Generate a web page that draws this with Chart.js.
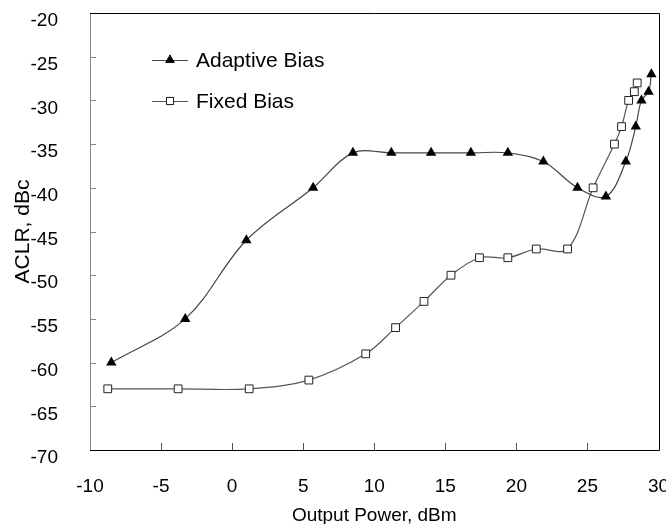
<!DOCTYPE html>
<html lang="en">
<head>
    <meta charset="UTF-8">
    <title>ACLR vs Output Power</title>
    <style>
        body { margin: 0; background: #fff; }
        canvas { display: block; }
    </style>
    <script src="https://cdn.jsdelivr.net/npm/chart.js"></script>
</head>
<body>
    <canvas id="aclrChart" width="666" height="524"></canvas>

    <script>
        // values
        var adaptiveX = [-8.5, -3.3, 1.0, 5.7, 8.5, 11.2, 14.0, 16.8, 19.4, 21.9, 24.3, 26.3, 27.7, 28.4, 28.8, 29.3, 29.5];
        var adaptiveY = [-60, -55, -46, -40, -36, -36, -36, -36, -36, -37, -40, -41, -37, -33, -30, -29, -27];
        var fixedX = [-8.75, -3.8, 1.2, 5.4, 9.4, 11.5, 13.5, 15.4, 17.4, 19.4, 21.4, 23.6, 25.4, 26.9, 27.4, 27.9, 28.3, 28.5];
        var fixedY = [-63, -63, -63, -62, -59, -56, -53, -50, -48, -48, -47, -47, -40, -35, -33, -30, -29, -28];
        var seriesNames = ['Adaptive Bias', 'Fixed Bias'];
        var xTitle = 'Output Power, dBm';
        var yTitle = 'ACLR, dBc';

        function toPoints(xs, ys) {
            return xs.map(function (x, i) { return { x: x, y: ys[i] }; });
        }

        var fontFamily = '"Liberation Sans", Arial, sans-serif';

        // frame + inside tick marks + legend inside the plot
        var framePlugin = {
            id: 'framePlugin',
            afterDraw: function (chart) {
                var ctx = chart.ctx;
                var a = chart.chartArea;
                var xs = chart.scales.x, ys = chart.scales.y;
                ctx.save();
                ctx.lineWidth = 1;

                // y ticks (inside)
                ctx.strokeStyle = '#888';
                ys.ticks.forEach(function (t) {
                    var py = Math.round(ys.getPixelForValue(t.value)) + 0.5;
                    ctx.beginPath();
                    ctx.moveTo(a.left, py);
                    ctx.lineTo(a.left + 6, py);
                    ctx.stroke();
                });
                // x ticks (inside)
                ctx.strokeStyle = '#555';
                xs.ticks.forEach(function (t) {
                    var px = Math.round(xs.getPixelForValue(t.value)) + 0.5;
                    ctx.beginPath();
                    ctx.moveTo(px, a.bottom);
                    ctx.lineTo(px, a.bottom - 7);
                    ctx.stroke();
                });

                // left axis grey, others black
                ctx.strokeStyle = '#888';
                ctx.beginPath();
                ctx.moveTo(Math.round(a.left) + 0.5, a.top);
                ctx.lineTo(Math.round(a.left) + 0.5, a.bottom);
                ctx.stroke();
                ctx.strokeStyle = '#000';
                ctx.beginPath();
                ctx.moveTo(a.left, Math.round(a.top) + 0.5);
                ctx.lineTo(Math.round(a.right) + 0.5, Math.round(a.top) + 0.5);
                ctx.lineTo(Math.round(a.right) + 0.5, Math.round(a.bottom) + 0.5);
                ctx.lineTo(a.left, Math.round(a.bottom) + 0.5);
                ctx.stroke();

                // legend
                var lx = a.left + 62, ly = a.top + 47, gap = 41;
                chart.data.datasets.forEach(function (ds, i) {
                    var y = ly + i * gap;
                    ctx.strokeStyle = ds.borderColor;
                    ctx.lineWidth = 1;
                    ctx.beginPath();
                    ctx.moveTo(lx, y + 0.5);
                    ctx.lineTo(lx + 36, y + 0.5);
                    ctx.stroke();
                    Chart.helpers.drawPoint(ctx, {
                        pointStyle: ds.pointStyle,
                        radius: ds.pointRadius - 0.5,
                        borderWidth: ds.pointBorderWidth,
                        rotation: 0
                    }, lx + 18, y);
                    ctx.fillStyle = ds.pointBackgroundColor;
                    ctx.strokeStyle = ds.pointBorderColor;
                    ctx.lineWidth = ds.pointBorderWidth;
                    ctx.fill();
                    if (ds.pointBorderWidth > 0) ctx.stroke();
                    ctx.fillStyle = '#000';
                    ctx.font = '21px ' + fontFamily;
                    ctx.textBaseline = 'middle';
                    ctx.textAlign = 'left';
                    ctx.fillText(ds.label, lx + 44, y + 1);
                });
                ctx.restore();
            }
        };

        var data = {
            datasets: [
                {
                    label: seriesNames[0],
                    data: toPoints(adaptiveX, adaptiveY),
                    borderColor: '#444',
                    borderWidth: 1.2,
                    tension: 0.35,
                    pointStyle: 'triangle',
                    pointRadius: 6,
                    pointBackgroundColor: '#000',
                    pointBorderColor: '#000',
                    pointBorderWidth: 0
                },
                {
                    label: seriesNames[1],
                    data: toPoints(fixedX, fixedY),
                    borderColor: '#555',
                    borderWidth: 1.2,
                    tension: 0.35,
                    pointStyle: 'rect',
                    pointRadius: 5.5,
                    pointBackgroundColor: '#fff',
                    pointBorderColor: '#222',
                    pointBorderWidth: 1
                }
            ]
        };

        var options = {
            responsive: false,
            animation: false,
            layout: { padding: { top: 13, right: 7.5, left: 0, bottom: 0 } },
            plugins: {
                legend: { display: false },
                tooltip: { enabled: false }
            },
            scales: {
                x: {
                    type: 'linear',
                    min: -10,
                    max: 30,
                    grid: { display: false },
                    border: { display: false },
                    ticks: {
                        stepSize: 5,
                        padding: 17,
                        color: '#000',
                        font: { family: fontFamily, size: 19 }
                    },
                    title: {
                        display: true,
                        text: xTitle,
                        color: '#000',
                        padding: { top: 0, bottom: -3 },
                        font: { family: fontFamily, size: 19 }
                    },
                    afterFit: function (s) {
                        s.height = 74;
                        s.paddingLeft = 0;
                        s.paddingRight = 0;
                    }
                },
                y: {
                    type: 'linear',
                    min: -70,
                    max: -20,
                    grid: { display: false },
                    border: { display: false },
                    ticks: {
                        stepSize: 5,
                        padding: 24,
                        labelOffset: 8,
                        color: '#000',
                        font: { family: fontFamily, size: 19 }
                    },
                    title: {
                        display: true,
                        text: yTitle,
                        color: '#000',
                        padding: { top: 11, bottom: 0 },
                        font: { family: fontFamily, size: 21 }
                    },
                    afterFit: function (s) {
                        s.width = 90;
                        s.paddingTop = 0;
                        s.paddingBottom = 0;
                    }
                }
            }
        };

        var ctx = document.getElementById('aclrChart').getContext('2d');
        new Chart(ctx, {
            type: 'line',
            data: data,
            options: options,
            plugins: [framePlugin]
        });
    </script>
</body>
</html>
